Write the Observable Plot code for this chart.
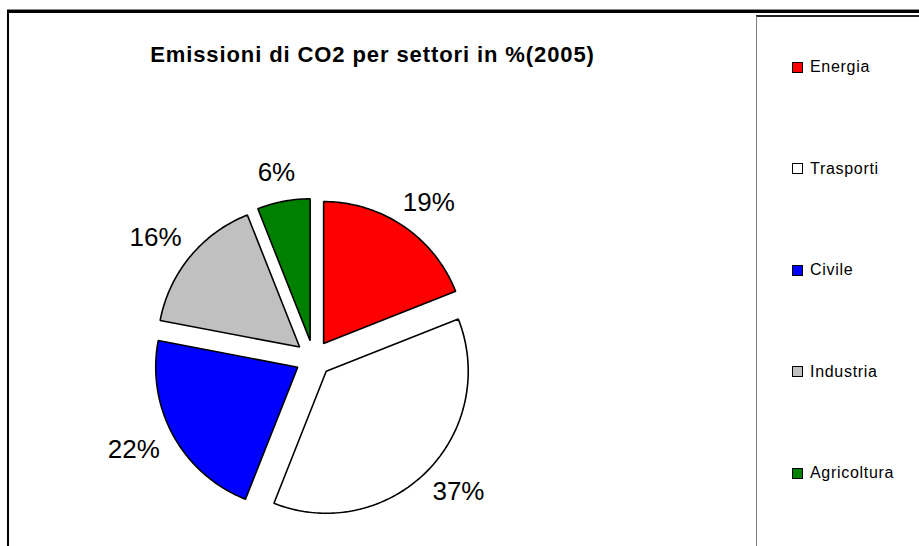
<!DOCTYPE html>
<html>
<head>
<meta charset="utf-8">
<script src="https://cdn.jsdelivr.net/npm/d3@7"></script>
<script src="https://cdn.jsdelivr.net/npm/@observablehq/plot@0.6"></script>
<style>
  html, body { margin: 0; padding: 0; background: #fff; }
  #wrap { position: relative; width: 919px; height: 546px; overflow: hidden; background: #fff;
          font-family: Arial, "Liberation Sans", sans-serif; }
  #chart { position: absolute; left: 0; top: 0; }
  #chart svg { display: block; }
  .frame-top { position: absolute; left: 7px; top: 10px; width: 912px; height: 3px; background: #000; }
  .frame-top-shade { position: absolute; left: 7px; top: 9px; width: 912px; height: 1px; background: #888; }
  .frame-left { position: absolute; left: 7px; top: 10px; width: 2px; height: 536px; background: #000; }
  #title { position: absolute; left: 0; top: 42px; width: 745px; text-align: center;
           font-weight: bold; font-size: 22px; letter-spacing: 0.9px; color: #000; }
  #legend { position: absolute; left: 756px; top: 15px; width: 200px; height: 560px;
            border-left: 1px solid #808080; border-top: 2px solid #222; box-sizing: border-box; }
  .item { position: absolute; left: 35px; height: 16px; display: flex; align-items: center;
          font-size: 16px; letter-spacing: 0.7px; color: #000; }
  .sw { width: 9px; height: 9px; border: 1px solid #000; margin-right: 7px; }
</style>
</head>
<body>
<div id="wrap">
  <div id="chart"></div>
  <div class="frame-top-shade"></div>
  <div class="frame-top"></div>
  <div class="frame-left"></div>
  <div id="title"></div>
  <div id="legend"></div>
</div>
<script>
// ---- data ----
const titleText = "Emissioni di CO2 per settori in %(2005)";
const sectors = ["Energia", "Trasporti", "Civile", "Industria", "Agricoltura"];
const shares = [19, 37, 22, 16, 6];
const labels = ["19%", "37%", "22%", "16%", "6%"];
const colors = ["#ff0000", "#ffffff", "#0000ff", "#c0c0c0", "#008000"];

// ---- layout constants ----
const cx = 313, cy = 358, R = 142;      // pie centre and radius in pixels
const explode = 18 / R;                 // explode distance (pie radius units)
const labelR = 179 / R;                 // label anchor distance from centre
const labelFont = 26, labelH = 20;

const ctx = document.createElement("canvas").getContext("2d");
ctx.font = `${labelFont}px Arial, 'Liberation Sans', sans-serif`;

const rows = sectors.map((s, i) => ({sector: s, share: shares[i], label: labels[i]}));
const arcs = d3.pie().sort(null).value(d => d.share)(rows);

const pts = [];
const labelRows = [];
arcs.forEach(a => {
  const mid = (a.startAngle + a.endAngle) / 2;
  const ux = Math.sin(mid), uy = Math.cos(mid);
  const ox = explode * ux, oy = explode * uy;
  pts.push({sector: a.data.sector, x: ox, y: oy});
  const n = Math.max(8, Math.ceil((a.endAngle - a.startAngle) / 0.02));
  for (let k = 0; k <= n; k++) {
    const t = a.startAngle + (a.endAngle - a.startAngle) * k / n;
    pts.push({sector: a.data.sector, x: ox + Math.sin(t), y: oy + Math.cos(t)});
  }
  pts.push({sector: a.data.sector, x: ox, y: oy});
  const w = ctx.measureText(a.data.label).width;
  labelRows.push({
    label: a.data.label,
    x: labelR * ux + ux * (w / 2) / R,
    y: labelR * uy + uy * (labelH / 2) / R
  });
});

const plot = Plot.plot({
  width: 919,
  height: 546,
  margin: 0,
  style: {background: "transparent", overflow: "visible"},
  x: {domain: [-1, 1], range: [cx - R, cx + R], axis: null},
  y: {domain: [-1, 1], range: [cy + R, cy - R], axis: null},
  color: {domain: sectors, range: colors},
  marks: [
    Plot.line(pts, {x: "x", y: "y", z: "sector", fill: "sector", stroke: "#000",
                    strokeWidth: 1.6, strokeLinejoin: "miter", curve: "linear-closed"}),
    Plot.text(labelRows, {x: "x", y: "y", text: "label", fontSize: labelFont,
                          fontFamily: "Arial, 'Liberation Sans', sans-serif", fill: "#000"})
  ]
});
document.getElementById("chart").appendChild(plot);

document.getElementById("title").textContent = titleText;

const color = plot.scale("color");
const legend = document.getElementById("legend");
const itemCentres0 = 67, step = 101.5;
sectors.forEach((s, i) => {
  const it = document.createElement("div");
  it.className = "item";
  it.style.top = (itemCentres0 + i * step - 8 - 15 - 2) + "px";
  const sw = document.createElement("div");
  sw.className = "sw";
  sw.style.background = color.apply(s);
  const tx = document.createElement("span");
  tx.textContent = s;
  it.appendChild(sw);
  it.appendChild(tx);
  legend.appendChild(it);
});
</script>
</body>
</html>
